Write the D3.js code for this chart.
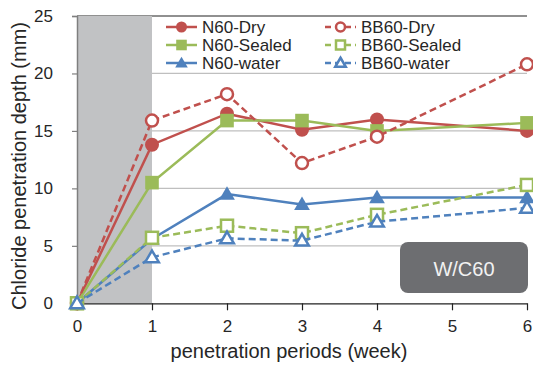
<!DOCTYPE html>
<html><head><meta charset="utf-8">
<script src="https://cdn.jsdelivr.net/npm/d3@7"></script>
<style>body{margin:0;background:#fff}svg{display:block}text{font-family:"Liberation Sans",Arial,sans-serif}</style>
</head><body><svg id="c" width="533" height="370"></svg>
<script>
const weeks = [0, 1, 2, 3, 4, 6];
const xTicks = [0, 1, 2, 3, 4, 5, 6];
const yTicks = [0, 5, 10, 15, 20, 25];
const n60Dry = [0, 13.8, 16.5, 15.1, 16.0, 15.0];
const n60Sealed = [0, 10.5, 15.9, 15.9, 15.0, 15.7];
const n60Water = [0, 5.6, 9.5, 8.6, 9.2, 9.2];
const bb60Dry = [0, 15.9, 18.2, 12.2, 14.5, 20.8];
const bb60Sealed = [0, 5.7, 6.75, 6.1, 7.7, 10.3];
const bb60Water = [0, 4.0, 5.65, 5.45, 7.1, 8.3];
const shadedWeeks = [0, 1];
const label = "W/C60";

const series = [
  {name:"N60-Dry", values:n60Dry, color:"#c0504d", shape:"circle", open:false, dash:null},
  {name:"N60-Sealed", values:n60Sealed, color:"#9bbb59", shape:"square", open:false, dash:null},
  {name:"N60-water", values:n60Water, color:"#4f81bd", shape:"triangle", open:false, dash:null},
  {name:"BB60-Dry", values:bb60Dry, color:"#c0504d", shape:"circle", open:true, dash:"7,4"},
  {name:"BB60-Sealed", values:bb60Sealed, color:"#9bbb59", shape:"square", open:true, dash:"7,4"},
  {name:"BB60-water", values:bb60Water, color:"#4f81bd", shape:"triangle", open:true, dash:"7,4"}
];

const svg = d3.select("#c");
const L = 77, R = 527, T = 16, B = 303.3;
const x = d3.scaleLinear().domain([0, 6]).range([L, R]);
const y = d3.scaleLinear().domain([0, 25]).range([B, T]);
const txt = "#262626";

svg.append("line").attr("x1", L).attr("x2", R).attr("y1", T).attr("y2", T).attr("stroke", "#222").attr("stroke-width", 1.2);
svg.append("g").selectAll("line").data(yTicks.filter(d => d > 0 && d < 25)).join("line")
  .attr("x1", L).attr("x2", R).attr("y1", d => y(d)).attr("y2", d => y(d))
  .attr("stroke", "#bfbfbf").attr("stroke-width", 1.2);
svg.append("rect").attr("x", x(shadedWeeks[0])).attr("y", T).attr("width", x(shadedWeeks[1]) - x(shadedWeeks[0])).attr("height", B - T)
  .attr("fill", "#c1c2c4");

const ya = svg.append("g").attr("transform", `translate(${L},0)`)
  .call(d3.axisLeft(y).tickValues(yTicks).tickFormat(d3.format("d")).tickSize(5).tickPadding(19));
ya.select(".domain").attr("stroke", "#7f7f7f").attr("stroke-width", 1.5);
ya.selectAll(".tick line").attr("stroke", "#7f7f7f").attr("stroke-width", 1.2);
ya.selectAll(".tick text").attr("font-size", 17).attr("fill", txt).attr("font-family", "Liberation Sans, Arial, sans-serif");

const xa = svg.append("g").attr("transform", `translate(0,${B})`)
  .call(d3.axisBottom(x).tickValues(xTicks).tickFormat(d3.format("d")).tickSize(7).tickSizeOuter(0).tickPadding(10));
xa.select(".domain").attr("stroke", "#222").attr("stroke-width", 1.3);
xa.selectAll(".tick line").attr("stroke", "#222").attr("stroke-width", 1.2);
xa.selectAll(".tick text").attr("font-size", 17).attr("fill", txt).attr("font-family", "Liberation Sans, Arial, sans-serif");

svg.append("text").attr("x", 289).attr("y", 358).attr("text-anchor", "middle").attr("font-size", 20).attr("fill", txt)
  .text("penetration periods (week)");
svg.append("text").attr("transform", "translate(26,166) rotate(-90)").attr("text-anchor", "middle").attr("font-size", 20).attr("fill", txt)
  .text("Chloride penetration depth (mm)");

function marker(g, shape, cx, cy, color, open, s) {
  const fill = open ? "#fff" : color;
  const sw = open ? 2.5 : 0;
  if (shape === "circle") {
    g.append("circle").attr("cx", cx).attr("cy", cy).attr("r", open ? s - 0.5 : s + 0.5).attr("fill", fill).attr("stroke", color).attr("stroke-width", sw);
  } else if (shape === "square") {
    const h = open ? s - 0.5 : s + 0.3;
    g.append("rect").attr("x", cx - h).attr("y", cy - h).attr("width", 2*h).attr("height", 2*h).attr("fill", fill).attr("stroke", color).attr("stroke-width", sw);
  } else {
    const h = open ? s : s + 1;
    g.append("path").attr("d", `M${cx},${cy - h*1.05}L${cx + h*1.05},${cy + h*0.75}L${cx - h*1.05},${cy + h*0.75}Z`)
      .attr("fill", fill).attr("stroke", color).attr("stroke-width", sw).attr("stroke-linejoin", "miter");
  }
}

const line = d3.line().x((d, i) => x(weeks[i])).y(d => y(d));
series.forEach(s => {
  const g = svg.append("g");
  g.append("path").attr("d", line(s.values)).attr("fill", "none").attr("stroke", s.color).attr("stroke-width", 2.5)
    .attr("stroke-dasharray", s.dash);
  s.values.forEach((v, i) => marker(g, s.shape, x(weeks[i]), y(v), s.color, s.open, 6.5));
});

const legCols = [166, 325];
series.forEach((s, i) => {
  const col = Math.floor(i / 3), row = i % 3;
  const lx = legCols[col], ly = 27 + row * 18;
  const g = svg.append("g");
  g.append("line").attr("x1", lx).attr("x2", lx + 31).attr("y1", ly).attr("y2", ly).attr("stroke", s.color).attr("stroke-width", 2.5)
    .attr("stroke-dasharray", s.dash ? "6,4" : null);
  marker(g, s.shape, lx + 15.5, ly, s.color, s.open, 5);
  g.append("text").attr("x", lx + 36).attr("y", ly + 6).attr("font-size", 17).attr("fill", txt).text(s.name);
});

svg.append("rect").attr("x", 400).attr("y", 242).attr("width", 128).attr("height", 51).attr("rx", 8).attr("fill", "#6d6e71");
svg.append("text").attr("x", 464).attr("y", 276).attr("text-anchor", "middle").attr("font-size", 20).attr("fill", "#f2f2f2").text(label);
</script></body></html>
